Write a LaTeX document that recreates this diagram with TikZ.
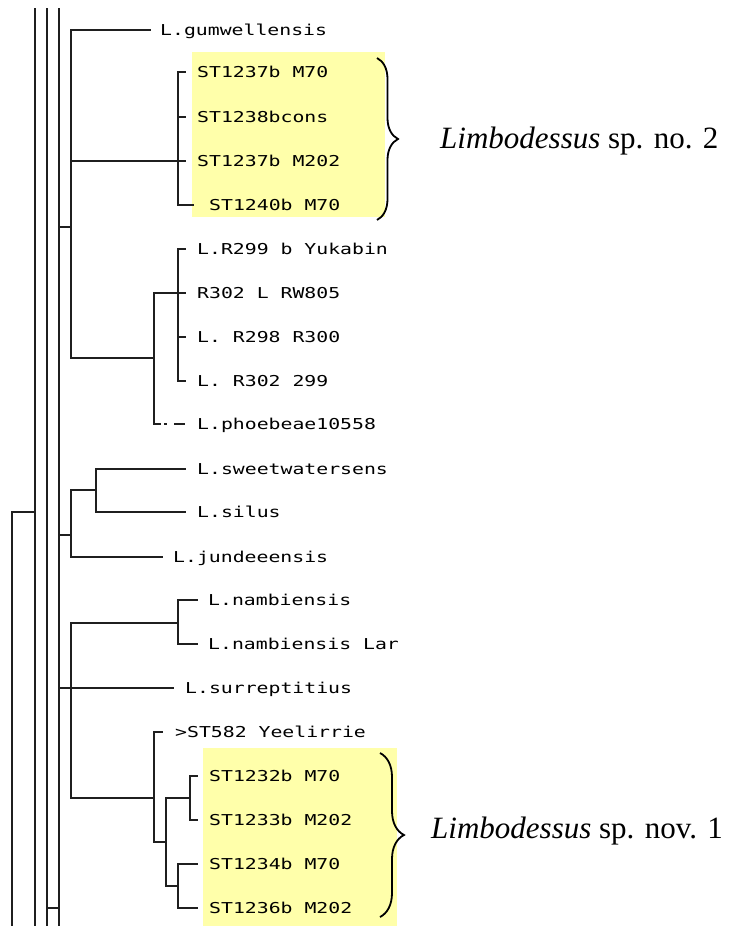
\documentclass[tikz,border=0pt]{standalone}
\usepackage{fontspec}
\newfontfamily\treefont[FakeStretch=1.32]{DejaVu Sans Mono}
\newfontfamily\capfont{Liberation Serif}
\usetikzlibrary{decorations.pathreplacing}
\definecolor{hlyellow}{RGB}{255,255,170}
\begin{document}
\begin{tikzpicture}[x=1pt,y=-1pt,
  tree/.style={line width=1.8pt, draw=black!88, line cap=rect},
  leaf/.style={anchor=base west, inner sep=0pt, text=black, font=\treefont\fontsize{15}{17}\selectfont},
  caption/.style={anchor=base west, inner sep=0pt, font=\capfont\fontsize{31}{36}\selectfont},
  hlbox/.style={fill=hlyellow, draw=none},
  brc/.style={decorate, line width=1.8pt, decoration={brace, amplitude=#1}}]
\useasboundingbox (0,0) rectangle (728,926);

% highlight boxes
\fill[hlbox] (192,52) rectangle (385,217);
\fill[hlbox] (203,748) rectangle (397,926);

% backbone verticals
\draw[tree] (35,9) -- (35,926);
\draw[tree] (47,9) -- (47,926);
\draw[tree] (59,9) -- (59,926);
\draw[tree] (12,926) -- (12,512) -- (35,512);
\draw[tree] (47,908) -- (59,908);

% top clade
\draw[tree] (150,30) -- (71,30) -- (71,358) -- (154,358);
\draw[tree] (59,227) -- (71,227);
\draw[tree] (71,161) -- (185,161);
\draw[tree] (185,72) -- (178,72) -- (178,205) -- (193,205);
\draw[tree] (178,117) -- (185,117);
\draw[tree] (160,424) -- (154,424) -- (154,293) -- (185,293);
\draw[tree] (185,249) -- (178,249) -- (178,381) -- (185,381);
\draw[tree] (178,337) -- (185,337);
\draw[tree, line cap=butt] (164,424) -- (166.5,424);
\draw[tree, line cap=butt] (174,424) -- (185,424);

% second clade
\draw[tree] (59,535) -- (71,535);
\draw[tree] (162,557) -- (71,557) -- (71,490) -- (96,490);
\draw[tree] (185,469) -- (96,469) -- (96,512) -- (185,512);

% third clade
\draw[tree] (178,623) -- (71,623) -- (71,798) -- (154,798);
\draw[tree] (197,600) -- (178,600) -- (178,644) -- (197,644);
\draw[tree] (59,688) -- (173,688);
\draw[tree] (162,732) -- (154,732) -- (154,842) -- (166,842);
\draw[tree] (190,798) -- (166,798) -- (166,886) -- (178,886);
\draw[tree] (197,776) -- (190,776) -- (190,820) -- (197,820);
\draw[tree] (197,864) -- (178,864) -- (178,908) -- (197,908);

% leaf labels
\node[leaf] (gum) at (160,35.5) {L.gumwellensis};
\node[leaf] (s1) at (197,77.5) {ST1237b M70};
\node[leaf] (s2) at (197,122.5) {ST1238bcons};
\node[leaf] (s3) at (197,166.5) {ST1237b M202};
\node[leaf] (s4) at (209,210.5) {ST1240b M70};
\node[leaf] (r1) at (197,254.5) {L.R299 b Yukabin};
\node[leaf] (r2) at (197,298.5) {R302 L RW805};
\node[leaf] (r3) at (197,342.5) {L. R298 R300};
\node[leaf] (r4) at (197,386.5) {L. R302 299};
\node[leaf] (pho) at (197,429.5) {L.phoebeae10558};
\node[leaf] (swe) at (197,474.5) {L.sweetwatersens};
\node[leaf] (sil) at (197,517.5) {L.silus};
\node[leaf] (jun) at (173,562.5) {L.jundeeensis};
\node[leaf] (nam1) at (208,605.5) {L.nambiensis};
\node[leaf] (nam2) at (208,649.5) {L.nambiensis Lar};
\node[leaf] (sur) at (185,693.5) {L.surreptitius};
\node[leaf] (yee) at (175,737.5) {>ST582 Yeelirrie};
\node[leaf] (t1) at (209,781.5) {ST1232b M70};
\node[leaf] (t2) at (209,825.5) {ST1233b M202};
\node[leaf] (t3) at (209,869.5) {ST1234b M70};
\node[leaf] (t4) at (209,913.5) {ST1236b M202};

% braces and captions
\draw[brc=21pt] (377,58) -- (377,220);
\draw[brc=24pt] (380,753) -- (380,917);
\node[caption] (cap2) at (440,148) {\textit{Limbodessus} sp. no. 2};
\node[caption] (cap1) at (431,838) {\textit{Limbodessus} sp. nov. 1};
\end{tikzpicture}
\end{document}
